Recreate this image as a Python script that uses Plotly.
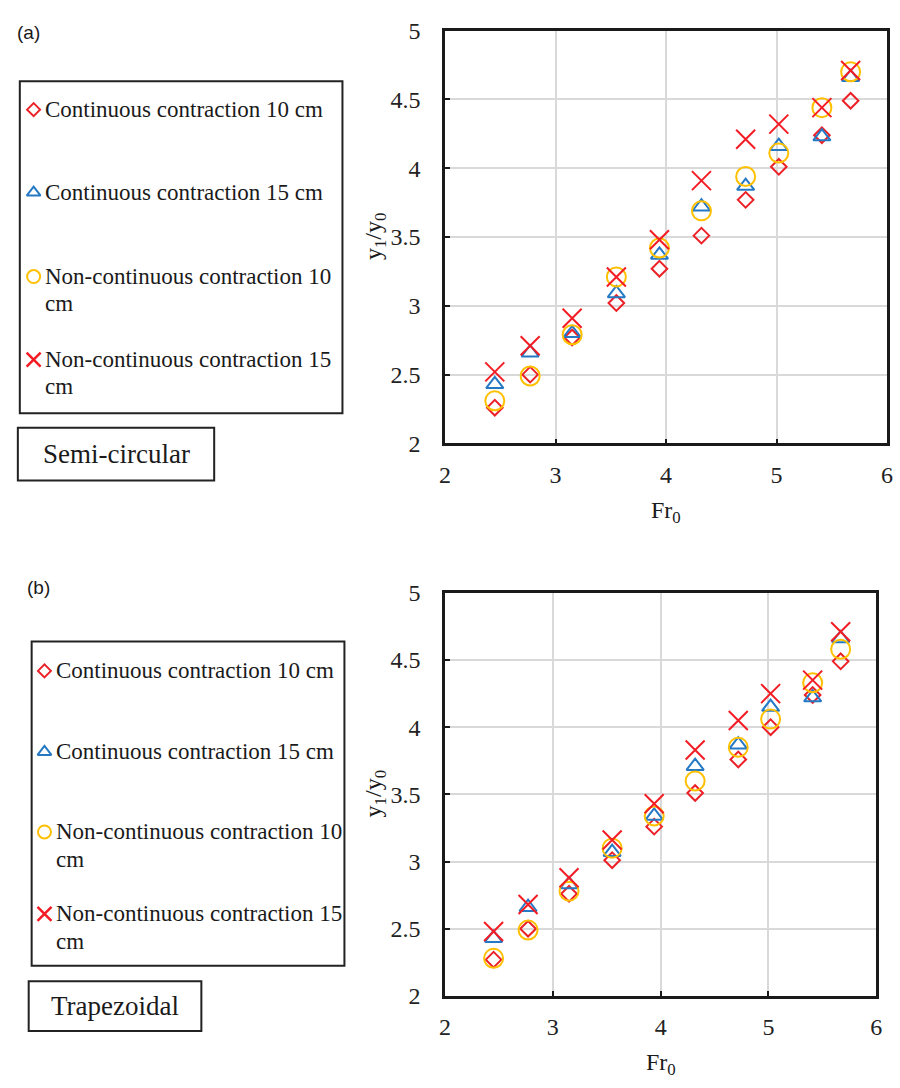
import plotly.graph_objects as go

# ---------------- data ----------------
fr0 = [2.45, 2.77, 3.15, 3.55, 3.94, 4.32, 4.72, 5.02, 5.41, 5.67]

# (a) Semi-circular
semi_cc10 = [2.26, 2.50, 2.77, 3.02, 3.27, 3.51, 3.77, 4.01, 4.24, 4.49]
semi_cc15 = [2.43, 2.66, 2.80, 3.09, 3.37, 3.72, 3.87, 4.16, 4.23, 4.66]
semi_nc10 = [2.31, 2.49, 2.79, 3.21, 3.42, 3.69, 3.94, 4.11, 4.44, 4.70]
semi_nc15 = [2.52, 2.71, 2.91, 3.21, 3.48, 3.91, 4.21, 4.32, 4.44, 4.71]

# (b) Trapezoidal
trap_cc10 = [2.27, 2.50, 2.76, 3.01, 3.26, 3.51, 3.76, 4.00, 4.24, 4.49]
trap_cc15 = [2.43, 2.66, 2.83, 3.07, 3.34, 3.71, 3.87, 4.15, 4.22, 4.66]
trap_nc10 = [2.28, 2.49, 2.78, 3.10, 3.34, 3.60, 3.85, 4.06, 4.33, 4.58]
trap_nc15 = [2.48, 2.68, 2.88, 3.16, 3.43, 3.83, 4.05, 4.25, 4.35, 4.71]

series_names = ["Continuous contraction 10 cm", "Continuous contraction 15 cm",
                "Non-continuous contraction 10 cm", "Non-continuous contraction 15 cm"]
x_ticks = [2, 3, 4, 5, 6]
y_ticks = [2, 2.5, 3, 3.5, 4, 4.5, 5]
y_tick_text = ["2", "2.5", "3", "3.5", "4", "4.5", "5"]
panel_labels = ["(a)", "(b)"]
shape_labels = ["Semi-circular", "Trapezoidal"]

# ---------------- styles ----------------
W, H = 900, 1088
SERIF = "Liberation Serif"
RED_D = "#ec2027"
BLUE = "#2478c4"
GOLD = "#ffc000"
RED_X = "#f41c24"
styles = [
    dict(symbol="diamond-open", size=12, color=RED_D, line=dict(color=RED_D, width=2)),
    dict(symbol="triangle-up-open", size=15, color=BLUE, line=dict(color=BLUE, width=2)),
    dict(symbol="circle-open", size=19, color=GOLD, line=dict(color=GOLD, width=2)),
    dict(symbol="x-thin-open", size=19, color=RED_X, line=dict(color=RED_X, width=2)),
]
legend_styles = [
    dict(symbol="diamond-open", size=10, color=RED_D, line=dict(color=RED_D, width=2)),
    dict(symbol="triangle-up-open", size=12, color=BLUE, line=dict(color=BLUE, width=2)),
    dict(symbol="circle-open", size=13, color=GOLD, line=dict(color=GOLD, width=2)),
    dict(symbol="x-thin-open", size=14, color=RED_X, line=dict(color=RED_X, width=2.5)),
]


def px(x):
    return x / W


def py(y):
    return 1 - y / H


fig = go.Figure()

panels = [
    dict(data=[semi_cc10, semi_cc15, semi_nc10, semi_nc15], xa="x", ya="y",
         left=445, right=893, top=18, bottom=441),
    dict(data=[trap_cc10, trap_cc15, trap_nc10, trap_nc15], xa="x2", ya="y2",
         left=445, right=882, top=594, bottom=1007),
]

for p in panels:
    for vals, st, name in zip(p["data"], styles, series_names):
        fig.add_trace(go.Scatter(x=fr0, y=vals, mode="markers", name=name,
                                 marker=st, xaxis=p["xa"], yaxis=p["ya"],
                                 showlegend=False, cliponaxis=False))

axis_common = dict(
    showgrid=True, gridcolor="#d9d9d9", gridwidth=2, zeroline=False,
    showline=True, linecolor="#1a1a1a", linewidth=2.5, mirror=True,
    ticks="inside", ticklen=5, tickwidth=2, tickcolor="#1a1a1a",
    tickfont=dict(family=SERIF, size=24, color="#222"),
)

layout = dict(
    width=W, height=H, margin=dict(l=0, r=0, t=0, b=0),
    paper_bgcolor="white", plot_bgcolor="rgba(0,0,0,0)",
    showlegend=False,
)
for i, p in enumerate(panels):
    sx = "" if i == 0 else "2"
    layout["xaxis" + sx] = dict(axis_common, domain=[px(p["left"]), px(p["right"])],
                                range=[2, 6], tickvals=x_ticks, anchor="y" + sx,
                                ticklabelstandoff=8)
    layout["yaxis" + sx] = dict(axis_common, domain=[py(p["bottom"]), py(p["top"])],
                                range=[2, 5], tickvals=y_ticks, ticktext=y_tick_text,
                                anchor="x" + sx, ticklabelstandoff=17)

# overlay pixel axes for legend keys
layout["xaxis3"] = dict(domain=[0, 1], range=[0, W], visible=False, anchor="y3", fixedrange=True)
layout["yaxis3"] = dict(domain=[0, 1], range=[H, 0], visible=False, anchor="x3", fixedrange=True)
fig.update_layout(**layout)

annotations = []
shapes = []

legend_boxes = [
    dict(box=(14, 70, 341, 410), mx=28, tx=38, rows=[99, 184, 270, 355], lab_box=(12, 425, 211, 479)),
    dict(box=(26, 644, 343, 976), mx=39, tx=49, rows=[674, 757, 839, 923], lab_box=(23, 992, 198, 1043)),
]
panel_label_pos = [(9, 20), (19, 589)]

for i, (lb, p) in enumerate(zip(legend_boxes, panels)):
    x0, y0, x1, y1 = lb["box"]
    shapes.append(dict(type="rect", xref="paper", yref="paper", x0=px(x0), x1=px(x1),
                       y0=py(y1), y1=py(y0), line=dict(color="#222", width=2)))
    a0, b0, a1, b1 = lb["lab_box"]
    shapes.append(dict(type="rect", xref="paper", yref="paper", x0=px(a0), x1=px(a1),
                       y0=py(b1), y1=py(b0), line=dict(color="#222", width=2)))
    annotations.append(dict(text=shape_labels[i], xref="paper", yref="paper",
                            x=px((a0 + a1) / 2), y=py((b0 + b1) / 2), showarrow=False,
                            xanchor="center", yanchor="middle",
                            font=dict(family=SERIF, size=27, color="#1a1a1a")))
    for k, (row, name, st) in enumerate(zip(lb["rows"], series_names, legend_styles)):
        fig.add_trace(go.Scatter(x=[lb["mx"]], y=[row], mode="markers", marker=st,
                                 xaxis="x3", yaxis="y3", showlegend=False,
                                 hoverinfo="skip"))
        if name.startswith("Non"):
            lines = [name[:-3], "cm"]
        else:
            lines = [name]
        for j, t in enumerate(lines):
            annotations.append(dict(text=t, xref="paper", yref="paper",
                                    x=px(lb["tx"]), y=py(row + 28 * j), showarrow=False,
                                    xanchor="left", yanchor="middle",
                                    font=dict(family=SERIF, size=23, color="#1a1a1a")))
    lx, ly = panel_label_pos[i]
    annotations.append(dict(text=panel_labels[i], xref="paper", yref="paper",
                            x=px(lx), y=py(ly), showarrow=False, xanchor="left",
                            yanchor="middle",
                            font=dict(family="Liberation Sans", size=19, color="#1a1a1a")))
    # axis titles
    annotations.append(dict(text="Fr<sub>0</sub>", xref="paper", yref="paper",
                            x=px((p["left"] + p["right"]) / 2), y=py(p["bottom"] + 70),
                            showarrow=False, xanchor="center", yanchor="middle",
                            font=dict(family=SERIF, size=24, color="#1a1a1a")))
    annotations.append(dict(text="y<sub>1</sub>/y<sub>0</sub>", xref="paper", yref="paper",
                            x=px(374), y=py((p["top"] + p["bottom"]) / 2), textangle=-90,
                            showarrow=False, xanchor="center", yanchor="middle",
                            font=dict(family=SERIF, size=24, color="#1a1a1a")))

fig.update_layout(annotations=annotations, shapes=shapes)
fig.write_html("out.html", config={"displayModeBar": False},
               post_script="document.body.style.margin='0';document.body.style.overflow='hidden';")
